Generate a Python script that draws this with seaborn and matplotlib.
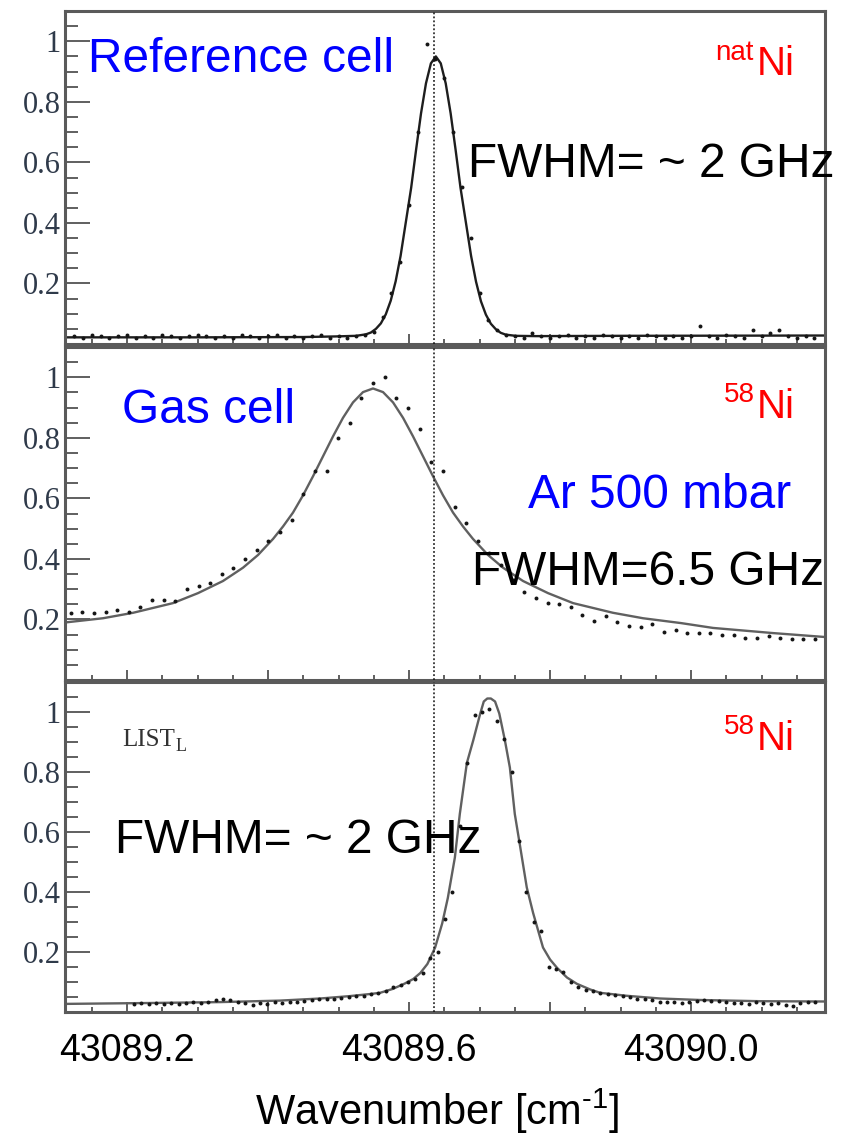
import numpy as np
import pandas as pd
import matplotlib
matplotlib.use("Agg")
import matplotlib.pyplot as plt
from matplotlib.ticker import MultipleLocator
import seaborn as sns

# ---------------- data (wavenumber offsets from 43089 cm-1, normalised signal) ----------------
BASE = 43089.0

# Reference cell (natNi) : measured points
top_dx = [.1250, .1375, .1500, .1625, .1750, .1875, .2000, .2125, .2250, .2375,
          .2500, .2625, .2750, .2875, .3000, .3125, .3250, .3375, .3500, .3625,
          .3750, .3875, .4000, .4125, .4250, .4375, .4500, .4625, .4750, .4875,
          .5000, .5125, .5250, .5375, .5500, .5625, .5750, .5875, .6000, .6125,
          .6250, .6375, .6500, .6625, .6750, .6875, .7000, .7125, .7250, .7375,
          .7500, .7625, .7750, .7875, .8000, .8125, .8250, .8375, .8500, .8625,
          .8750, .8875, .9000, .9125, .9250, .9375, .9500, .9625, .9750, .9875,
          1.0000, 1.0125, 1.0250, 1.0375, 1.0500, 1.0625, 1.0750, 1.0875, 1.1000, 1.1125,
          1.1250, 1.1375, 1.1500, 1.1625, 1.1750]
top_y = [0.025, 0.02, 0.03, 0.025, 0.02, 0.025, 0.03, 0.02, 0.025, 0.02,
         0.03, 0.025, 0.02, 0.025, 0.03, 0.025, 0.02, 0.025, 0.02, 0.03,
         0.025, 0.02, 0.025, 0.03, 0.02, 0.025, 0.02, 0.025, 0.03, 0.02,
         0.025, 0.02, 0.025,
         0.03, 0.04, 0.09, 0.17, 0.27, 0.46, 0.70, 0.99, 0.94, 0.88,
         0.70, 0.52, 0.35, 0.17, 0.08, 0.045, 0.03,
         0.025, 0.02, 0.035, 0.025, 0.02, 0.025, 0.03, 0.02, 0.025, 0.02,
         0.03, 0.025, 0.02, 0.025, 0.02, 0.03, 0.025, 0.02, 0.025, 0.02,
         0.025, 0.06, 0.025, 0.02, 0.03, 0.025, 0.02, 0.045, 0.025, 0.035,
         0.045, 0.025, 0.02, 0.025, 0.02]
# Reference cell : fitted curve
top_fit_dx = [.112, .300, .450, .496, .525, .539, .546, .553, .560, .567,
              .574, .581, .588, .595, .603, .610, .617, .624, .631, .638,
              .645, .652, .659, .666, .673, .681, .688, .695, .702, .709,
              .716, .723, .730, .737, .751, .780, .900, 1.190]
top_fit_y = [0.022, 0.022, 0.023, 0.025, 0.027, 0.032, 0.038, 0.05, 0.068, 0.098,
             0.143, 0.207, 0.291, 0.396, 0.516, 0.642, 0.762, 0.861, 0.927, 0.950,
             0.927, 0.861, 0.762, 0.642, 0.516, 0.396, 0.291, 0.206, 0.141, 0.097,
             0.067, 0.049, 0.037, 0.031, 0.027, 0.026, 0.027, 0.028]

# Gas cell (58Ni, Ar 500 mbar) : measured points
mid_dx = [.1200, .1365, .1530, .1695, .1860, .2025, .2190, .2355, .2520, .2685,
          .2850, .3015, .3180, .3345, .3510, .3675, .3840, .4005, .4170, .4335,
          .4500, .4665, .4830, .4995, .5160, .5325, .5490, .5655, .5820, .5985,
          .6150, .6315, .6480, .6645, .6810, .6975, .7140, .7305, .7470, .7635,
          .7800, .7965, .8130, .8295, .8460, .8625, .8790, .8955, .9120, .9285,
          .9450, .9615, .9780, .9945, 1.0110, 1.0275, 1.0440, 1.0605, 1.0770, 1.0935,
          1.1100, 1.1265, 1.1430, 1.1595, 1.1760]
mid_y = [0.22, 0.225, 0.22, 0.225, 0.23, 0.225, 0.24, 0.265, 0.265, 0.26,
         0.30, 0.31, 0.32, 0.35, 0.37, 0.40, 0.43, 0.46, 0.49, 0.53,
         0.615, 0.69, 0.69, 0.80, 0.85, 0.93, 0.98, 1.00, 0.93, 0.90,
         0.83, 0.72, 0.69, 0.57, 0.52, 0.46, 0.42, 0.38, 0.33, 0.29,
         0.27, 0.255, 0.25, 0.24, 0.215, 0.195, 0.21, 0.19, 0.18, 0.175,
         0.185, 0.16, 0.165, 0.155, 0.155, 0.155, 0.15, 0.15, 0.14, 0.14,
         0.145, 0.14, 0.135, 0.135, 0.135]
# Gas cell : fitted curve
mid_fit_dx = [.1120, .1659, .2085, .2652, .3007, .3361, .3645, .3858, .4071, .4212,
              .4354, .4496, .4638, .4780, .4922, .5063, .5205, .5347, .5489, .5631,
              .5773, .5915, .6056, .6198, .6340, .6482, .6624, .6766, .6907, .7120,
              .7333, .7617, .7971, .8326, .8893, .9319, .9858, 1.0312, 1.1163, 1.1900]
mid_fit_y = [0.190, 0.204, 0.222, 0.254, 0.287, 0.327, 0.371, 0.413, 0.466, 0.507,
             0.553, 0.610, 0.673, 0.739, 0.805, 0.866, 0.917, 0.951, 0.963, 0.951,
             0.917, 0.866, 0.805, 0.739, 0.673, 0.610, 0.553, 0.507, 0.466, 0.413,
             0.371, 0.327, 0.287, 0.254, 0.222, 0.204, 0.188, 0.172, 0.155, 0.142]

# LIST_L (58Ni) : measured points
bot_dx = [.2100, .2205, .2310, .2415, .2520, .2625, .2730, .2835, .2940, .3045,
          .3150, .3255, .3360, .3465, .3570, .3675, .3780, .3885, .3990, .4095,
          .4200, .4305, .4410, .4515, .4620, .4725, .4830, .4935, .5040, .5145,
          .5250, .5355, .5460, .5565, .5670, .5775, .5880, .5985, .6090, .6195,
          .6300, .6405, .6510, .6615, .6720, .6825, .6930, .7035, .7140, .7245,
          .7350, .7455, .7560, .7665, .7770, .7875, .7980, .8085, .8190, .8295,
          .8400, .8505, .8610, .8715, .8820, .8925, .9030, .9135, .9240, .9345,
          .9450, .9555, .9660, .9765, .9870, .9975, 1.0080, 1.0185, 1.0290, 1.0395,
          1.0500, 1.0605, 1.0710, 1.0815, 1.0920, 1.1025, 1.1130, 1.1235, 1.1340, 1.1445,
          1.1550, 1.1655, 1.1760]
bot_y = [0.028, 0.03, 0.028, 0.03, 0.027, 0.03, 0.028, 0.03, 0.032, 0.03,
         0.035, 0.04, 0.045, 0.04, 0.035, 0.03, 0.025, 0.03, 0.028, 0.032,
         0.03, 0.035, 0.033, 0.037, 0.04, 0.042, 0.045, 0.043, 0.048, 0.05,
         0.055, 0.053, 0.06, 0.065, 0.07, 0.085, 0.09, 0.10, 0.11, 0.13,
         0.18, 0.20, 0.31, 0.40, 0.62, 0.83, 0.99, 1.00, 1.01, 0.97,
         0.91, 0.80, 0.57, 0.40, 0.30, 0.27, 0.15, 0.145, 0.135, 0.10,
         0.085, 0.075, 0.07, 0.064, 0.06, 0.057, 0.055, 0.05, 0.045, 0.043,
         0.04, 0.035, 0.033, 0.035, 0.03, 0.035, 0.037, 0.04, 0.038, 0.036,
         0.035, 0.03, 0.03, 0.028, 0.032, 0.03, 0.028, 0.03, 0.025, 0.02,
         0.03, 0.035, 0.032]
# LIST_L : fitted curve
bot_fit_dx = [.112, .233, .332, .417, .474, .516, .545, .559, .577, .594,
              .606, .616, .626, .637, .647, .655, .665, .672, .682, .691,
              .701, .706, .711, .716, .722, .728, .736, .743, .750, .757,
              .767, .776, .790, .800, .810, .824, .838, .857, .871, .909,
              .956, 1.013, 1.098, 1.190]
bot_fit_y = [0.027, 0.03, 0.033, 0.038, 0.045, 0.053, 0.06, 0.064, 0.077, 0.095,
             0.11, 0.13, 0.16, 0.215, 0.295, 0.38, 0.515, 0.66, 0.83, 0.905,
             0.995, 1.035, 1.045, 1.045, 1.035, 0.995, 0.905, 0.815, 0.66, 0.56,
             0.415, 0.33, 0.215, 0.175, 0.147, 0.115, 0.094, 0.075, 0.064, 0.054,
             0.045, 0.04, 0.036, 0.035]

REF_LINE = 43089.6355          # dotted reference wavenumber
x_ticks = [43089.2, 43089.4, 43089.6, 43089.8, 43090.0]
x_ticklabels = ["43089.2", "", "43089.6", "", "43090.0"]
y_ticks = [0.0, 0.2, 0.4, 0.6, 0.8, 1.0]
y_ticklabels = ["", "0.2", "0.4", "0.6", "0.8", "1"]

panels = [
    dict(pts=(top_dx, top_y), fit=(top_fit_dx, top_fit_y), line="#1e1e1e"),
    dict(pts=(mid_dx, mid_y), fit=(mid_fit_dx, mid_fit_y), line="#606060"),
    dict(pts=(bot_dx, bot_y), fit=(bot_fit_dx, bot_fit_y), line="#606060"),
]

# ---------------- figure ----------------
sns.set_theme(style="ticks")
plt.rcParams["font.family"] = ["Liberation Sans", "DejaVu Sans"]

W, H = 854, 1134
fig = plt.figure(figsize=(W / 100, H / 100), dpi=100)


def rect(x0, y0, x1, y1):
    return [x0 / W, 1 - y1 / H, (x1 - x0) / W, (y1 - y0) / H]


boxes = [(65, 11, 825, 344), (65, 347, 825, 680), (65, 682, 825, 1012)]

for k, (p, b) in enumerate(zip(panels, boxes)):
    ax = fig.add_axes(rect(*b))
    px = [BASE + v for v in p["pts"][0]]
    fx = [BASE + v for v in p["fit"][0]]
    dpts = pd.DataFrame({"x": px, "y": p["pts"][1]})
    dfit = pd.DataFrame({"x": fx, "y": p["fit"][1]})
    sns.lineplot(data=dfit, x="x", y="y", ax=ax, color=p["line"], lw=1.7,
                 sort=False, estimator=None, zorder=2)
    sns.scatterplot(data=dpts, x="x", y="y", ax=ax, s=8, color="#151515",
                    linewidth=0, zorder=3)
    ax.axvline(REF_LINE, color="#111111", lw=1.1, ls=(0, (1.2, 1.4)), zorder=4)
    ax.set_xlim(43089.112, 43090.190)
    ax.set_ylim(0, 1.10)
    ax.set_xlabel("")
    ax.set_ylabel("")

    ax.set_yticks(y_ticks, labels=y_ticklabels, fontfamily="Liberation Serif",
                  fontsize=22, color="#2f3a4a")
    ax.yaxis.set_minor_locator(MultipleLocator(0.05))
    ax.tick_params(axis="y", which="major", direction="in", length=18, width=1.2,
                   color="#444444", pad=3)
    ax.tick_params(axis="y", which="minor", direction="in", length=9, width=1.2,
                   color="#444444")

    if k == 2:
        ax.set_xticks(x_ticks, labels=x_ticklabels, fontsize=27, color="black")
    else:
        ax.set_xticks(x_ticks, labels=[""] * len(x_ticks))
    ax.xaxis.set_minor_locator(MultipleLocator(0.05))
    ax.tick_params(axis="x", which="major", direction="in", length=7, width=1.2,
                   color="#444444", pad=15)
    ax.tick_params(axis="x", which="minor", direction="in", length=3.5, width=1.2,
                   color="#444444")
    for s in ax.spines.values():
        s.set_color("#5a5a5a")
        s.set_linewidth(2.2)
    ax.set_facecolor("white")


def ftext(x, y, s, **kw):
    kw.setdefault("va", "baseline")
    fig.text(x / W, 1 - y / H, s, **kw)


BLUE, RED = "#0000ff", "#ff0000"
BIG = 34.5
# top panel
ftext(88, 72, "Reference cell", color=BLUE, fontsize=BIG)
ftext(754, 60, "nat", color=RED, fontsize=20, ha="right")
ftext(757, 75, "Ni", color=RED, fontsize=29)
ftext(468, 177, "FWHM= ~ 2 GHz", color="black", fontsize=BIG)
# middle panel
ftext(122, 423, "Gas cell", color=BLUE, fontsize=BIG)
ftext(755, 402, "58", color=RED, fontsize=20, ha="right")
ftext(757, 418, "Ni", color=RED, fontsize=29)
ftext(528, 508, "Ar 500 mbar", color=BLUE, fontsize=BIG)
ftext(472, 585, "FWHM=6.5 GHz", color="black", fontsize=BIG)
# bottom panel
ftext(122, 746, "LIST", color="#333333", fontsize=18, fontfamily="Liberation Serif")
ftext(176, 751, "L", color="#333333", fontsize=13, fontfamily="Liberation Serif")
ftext(755, 734, "58", color=RED, fontsize=20, ha="right")
ftext(757, 750, "Ni", color=RED, fontsize=29)
ftext(115, 853, "FWHM= ~ 2 GHz", color="black", fontsize=BIG)
# x axis title
ftext(437, 1125, "Wavenumber [cm$^{\\mathregular{\u20101}}$]", color="black",
      fontsize=30, ha="center")

fig.savefig("out.png", dpi=100)
